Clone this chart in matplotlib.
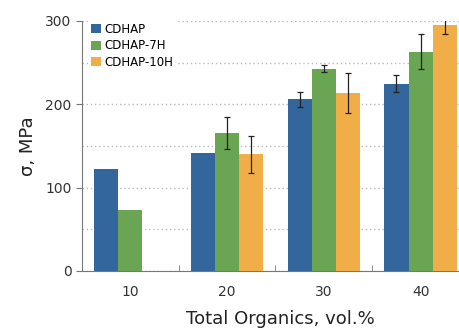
import matplotlib.pyplot as plt
import numpy as np

# data
groups = ['10', '20', '30', '40']
series = ['CDHAP', 'CDHAP-7H', 'CDHAP-10H']
cdhap = [122, 142, 206, 225]
cdhap_err = [0, 0, 9, 10]
cdhap7 = [73, 166, 243, 263]
cdhap7_err = [0, 19, 4, 21]
cdhap10 = [np.nan, 140, 214, 295]
cdhap10_err = [0, 22, 24, 11]
colors = ['#33669c', '#6aa553', '#f0ad48']

fig = plt.figure(figsize=(4.6, 3.31), dpi=100)
ax = fig.add_axes([82/460, 60/331, 387/460, 250/331])

x = np.arange(len(groups))
w = 0.25
vals = [cdhap, cdhap7, cdhap10]
errs = [cdhap_err, cdhap7_err, cdhap10_err]
for i, (v, e, c, name) in enumerate(zip(vals, errs, colors, series)):
    v = np.array(v, dtype=float)
    e = np.array(e, dtype=float)
    ax.bar(x + (i - 1) * w, v, w, color=c, label=name, zorder=3)
    m = e > 0
    ax.errorbar((x + (i - 1) * w)[m], v[m], yerr=e[m], fmt='none',
                ecolor='#222222', elinewidth=0.9, capsize=2, capthick=0.9, zorder=4)

ax.set_xlim(-0.5, 3.5)
ax.set_ylim(0, 300)
ax.set_yticks([0, 100, 200, 300])
ax.set_yticks([50, 150, 250], minor=True)
ax.yaxis.grid(True, which='both', linestyle=(0, (1, 2)), color='#bbbbbb', linewidth=1, zorder=0)
ax.set_xticks(x)
ax.set_xticklabels(groups)
ax.set_xticks([0.5, 1.5, 2.5], minor=True)
ax.tick_params(axis='x', which='major', length=0, pad=10, labelsize=10, colors='#333333')
ax.tick_params(axis='x', which='minor', length=4, direction='in', color='#777777')
ax.tick_params(axis='y', which='major', length=4, direction='out', color='#777777', labelsize=10, labelcolor='#333333')
ax.tick_params(axis='y', which='minor', length=0)
for s in ['top', 'right']:
    ax.spines[s].set_visible(False)
for s in ['left', 'bottom']:
    ax.spines[s].set_color('#777777')

ax.set_ylabel('σ, MPa', fontsize=13, color='#222222', labelpad=6)
ax.set_xlabel('Total Organics, vol.%', fontsize=13, color='#222222')
ax.xaxis.set_label_coords((280 - 82) / 387, -0.155)

leg = ax.legend(loc='upper left', frameon=True, fontsize=8.5, handlelength=0.8, handleheight=0.8,
                handletextpad=0.3, labelspacing=0.3, bbox_to_anchor=(0.0, 1.03),
                borderpad=0.3, fancybox=False)
leg.get_frame().set_edgecolor('none')
leg.get_frame().set_facecolor('white')
leg.get_frame().set_alpha(1)

fig.savefig('out.png', dpi=100)
